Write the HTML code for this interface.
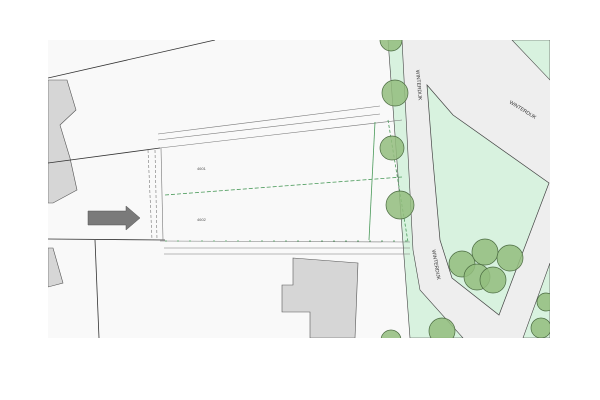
<!DOCTYPE html>
<html><head><style>body{margin:0;background:#fff}svg{display:block}</style></head><body>
<svg width="600" height="400" viewBox="0 0 600 400" xmlns="http://www.w3.org/2000/svg" font-family="Liberation Sans, sans-serif">
<defs><clipPath id="c"><rect x="48" y="40" width="502" height="298"/></clipPath></defs>
<rect width="600" height="400" fill="#fff"/>
<g clip-path="url(#c)">
<rect x="48" y="40" width="502" height="298" fill="#f9f9f9"/>
<polygon points="402,40 512,40 550,80 550,263 523,338 463,338 420,290 413,250" fill="#eeeeee"/>
<polygon points="388,40 402,40 413,250 420,290 463,338 410,338" fill="#d8f2df" stroke="#444" stroke-width="0.6"/>
<polygon points="512,40 550,40 550,80" fill="#d8f2df" stroke="#444" stroke-width="0.6"/>
<polygon points="427,85 453,115 549,183 499,315 452,278 440,240 432,150" fill="#d8f2df" stroke="#444" stroke-width="0.7"/>
<polygon points="550,263 523,338 550,338" fill="#d8f2df" stroke="#444" stroke-width="0.6"/>
<polygon points="48,80 67,80 76,110 60,125 70,158 77,190 53,203 48,203" fill="#d6d6d6" stroke="#555" stroke-width="0.6"/>
<polygon points="48,248 53,248 63,283 48,287" fill="#d6d6d6" stroke="#555" stroke-width="0.6"/>
<polygon points="293,258 358,263 355,338 310,338 310,312 282,312 282,285 293,285" fill="#d6d6d6" stroke="#555" stroke-width="0.6"/>
<g stroke="#333" stroke-width="0.8" fill="none">
<line x1="48" y1="78" x2="215" y2="40"/>
<line x1="48" y1="163" x2="160" y2="148"/>
<line x1="48" y1="239" x2="165" y2="240"/>
<line x1="95" y1="240" x2="99" y2="338"/>
</g>
<g stroke="#777" stroke-width="0.6" fill="none">
<line x1="160" y1="148" x2="402" y2="120"/>
<line x1="160" y1="241" x2="410" y2="242"/>
<line x1="158" y1="140" x2="380" y2="114"/>
<line x1="158" y1="134" x2="380" y2="106"/>
<line x1="164" y1="248" x2="410" y2="248"/>
<line x1="164" y1="254" x2="410" y2="254"/>
<line x1="148" y1="150" x2="152" y2="240" stroke-dasharray="3,2"/>
<line x1="155" y1="150" x2="157" y2="240" stroke-dasharray="3,2"/>
<line x1="161" y1="148" x2="163" y2="240"/>
</g>
<g stroke="#4a9a5a" stroke-width="0.8" fill="none">
<line x1="165" y1="195" x2="402" y2="177" stroke-dasharray="4,2"/>
<line x1="375" y1="122" x2="369" y2="240"/>
<line x1="388" y1="120" x2="408" y2="242" stroke-dasharray="3,2"/>
<line x1="165" y1="241" x2="410" y2="241" stroke-dasharray="2,10"/>
</g>
<text x="197" y="170" font-size="4" fill="#555">4601</text>
<text x="197" y="221" font-size="4" fill="#555">4602</text>
<polygon points="88,211 126,211 126,206 140,218 126,230 126,225 88,225" fill="#7a7a7a" stroke="#555" stroke-width="0.5"/>
<g fill="#93bd7e" fill-opacity="0.85" stroke="#4a6a40" stroke-width="0.7">
<circle cx="391" cy="40" r="11"/>
<circle cx="395" cy="93" r="13"/>
<circle cx="392" cy="148" r="12"/>
<circle cx="400" cy="205" r="14"/>
<circle cx="462" cy="264" r="13"/>
<circle cx="485" cy="252" r="13"/>
<circle cx="510" cy="258" r="13"/>
<circle cx="477" cy="277" r="13"/>
<circle cx="493" cy="280" r="13"/>
<circle cx="442" cy="331" r="13"/>
<circle cx="391" cy="340" r="10"/>
<circle cx="546" cy="302" r="9"/>
<circle cx="541" cy="328" r="10"/>
</g>
<text font-size="5" fill="#333" transform="translate(416,70) rotate(85)">WINTERDIJK</text>
<text font-size="5" fill="#333" transform="translate(509,103) rotate(32)">WINTERDIJK</text>
<text font-size="5" fill="#333" transform="translate(432,250) rotate(80)">WINTERDIJK</text>
</g>
</svg>
</body></html>
